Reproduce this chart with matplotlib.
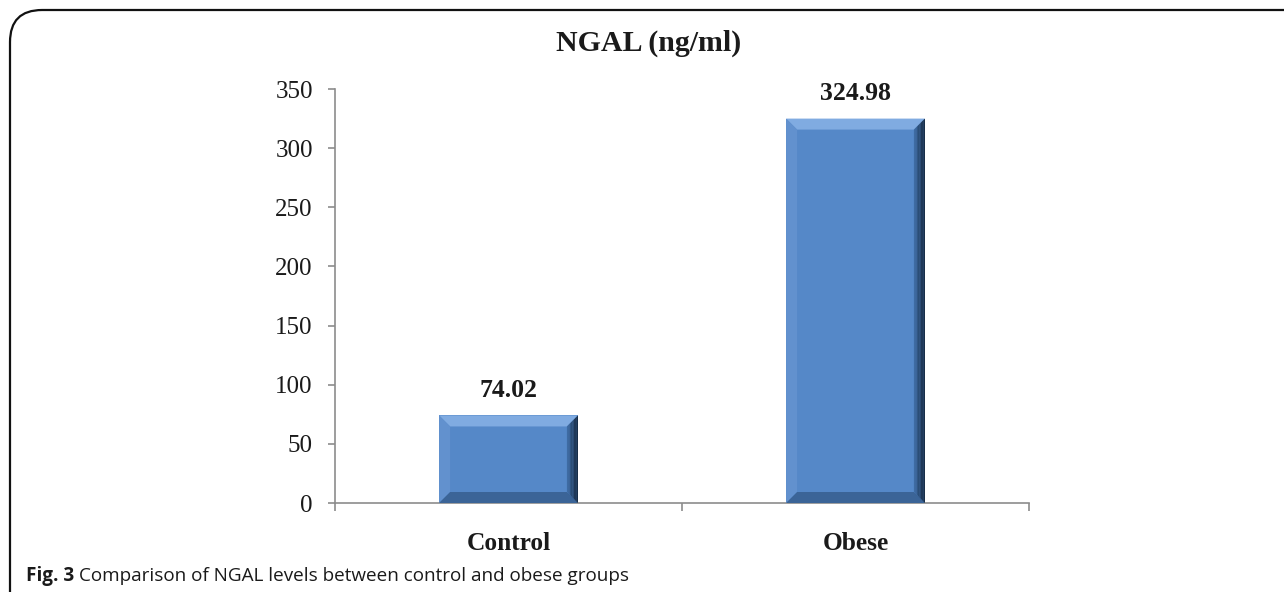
import numpy as np
import matplotlib
matplotlib.use('Agg')
import matplotlib.pyplot as plt
from matplotlib.patches import Polygon, FancyBboxPatch
from matplotlib.colors import LinearSegmentedColormap

groups = ['Control', 'Obese']
ngal = [74.02, 324.98]
yticks = [0, 50, 100, 150, 200, 250, 300, 350]

W, H = 1284, 592
fig = plt.figure(figsize=(W / 100, H / 100), dpi=100)
serif = 'Liberation Serif'

# rounded panel border, open to the right and bottom
fig.patches.append(FancyBboxPatch((10 / W, -0.2), 1.2, (H - 10) / H + 0.2,
                                  boxstyle='round,pad=0,rounding_size=0.025',
                                  transform=fig.transFigure, fill=False,
                                  lw=1.6, ec='#111111', mutation_aspect=W / H))

ax = fig.add_axes([335 / W, 89 / H, (1029 - 335) / W, (503 - 89) / H])
ax.set_xlim(-0.5, 1.5)
ax.set_ylim(0, 350)

width = 0.4
x = np.arange(len(groups))
bars = ax.bar(x, ngal, width=width, color='#5588C8', edgecolor='none', zorder=2)

# bevel edges on each bar
fig.canvas.draw()
bev = 11  # px
dx = bev / ax.bbox.width * 2.0
dy = bev / ax.bbox.height * 350
shades = LinearSegmentedColormap.from_list('sh', ['#3E6BA3', '#12243A'])
for b in bars:
    x0, x1 = b.get_x(), b.get_x() + b.get_width()
    y0, y1 = 0, b.get_height()
    faces = [
        ([(x0, y1), (x1, y1), (x1 - dx, y1 - dy), (x0 + dx, y1 - dy)], '#80ABE1'),
        ([(x0, y0), (x0, y1), (x0 + dx, y1 - dy), (x0 + dx, y0 + dy)], '#6291CE'),
        ([(x0, y0), (x1, y0), (x1 - dx, y0 + dy), (x0 + dx, y0 + dy)], '#3B6497'),
    ]
    for pts, c in faces:
        ax.add_patch(Polygon(pts, closed=True, fc=c, ec='none', zorder=3))
    # right edge darkens towards the outside
    n = 8
    for i in range(n):
        a = x1 - dx + dx * i / n
        bb = x1 - dx + dx * (i + 1) / n
        fa = i / n
        fb = (i + 1) / n
        pts = [(a, y0 + dy * (1 - fa)), (bb, y0 + dy * (1 - fb)),
               (bb, y1 - dy * (1 - fb)), (a, y1 - dy * (1 - fa))]
        ax.add_patch(Polygon(pts, closed=True, fc=shades(i / (n - 1)),
                             ec='none', zorder=3))

# value labels above bars
for xi, v in zip(x, ngal):
    ax.annotate(f'{v:.2f}', (xi, v), xytext=(0, 10), textcoords='offset points',
                ha='center', va='bottom', fontsize=18.5, fontweight='bold',
                family=serif, color='#1a1a1a')

for s in ['top', 'right']:
    ax.spines[s].set_visible(False)
for s in ['left', 'bottom']:
    ax.spines[s].set_color('#8c8c8c')
    ax.spines[s].set_linewidth(1.2)

ax.set_yticks(yticks)
ax.set_yticklabels([str(t) for t in yticks], family=serif, fontsize=18,
                   color='#1a1a1a')
ax.tick_params(axis='y', length=5, width=1.2, color='#8c8c8c', pad=11)

ax.set_xticks(x)
ax.set_xticklabels(groups, family=serif, fontsize=18.3, fontweight='bold',
                   color='#1a1a1a')
ax.tick_params(axis='x', which='major', length=0, pad=21)
ax.set_xticks([-0.5, 0.5, 1.5], minor=True)
ax.tick_params(axis='x', which='minor', length=6, width=1.2, color='#8c8c8c')

fig.text(649 / W, 1 - 43 / H, 'NGAL (ng/ml)', ha='center', va='center',
         family=serif, fontsize=21.5, fontweight='bold', color='#1a1a1a')

# figure caption
t1 = fig.text(26 / W, 1 - 576 / H, 'Fig. 3', ha='left', va='center',
              family='Open Sans', fontsize=13.6, fontweight='bold', color='#1a1a1a')
fig.canvas.draw()
ext = t1.get_window_extent()
fig.text(ext.x1 / W + 5 / W, 1 - 576 / H,
         'Comparison of NGAL levels between control and obese groups',
         ha='left', va='center', family='Open Sans', fontsize=13.6, color='#1a1a1a')

fig.savefig('out.png', dpi=100, facecolor='white')
